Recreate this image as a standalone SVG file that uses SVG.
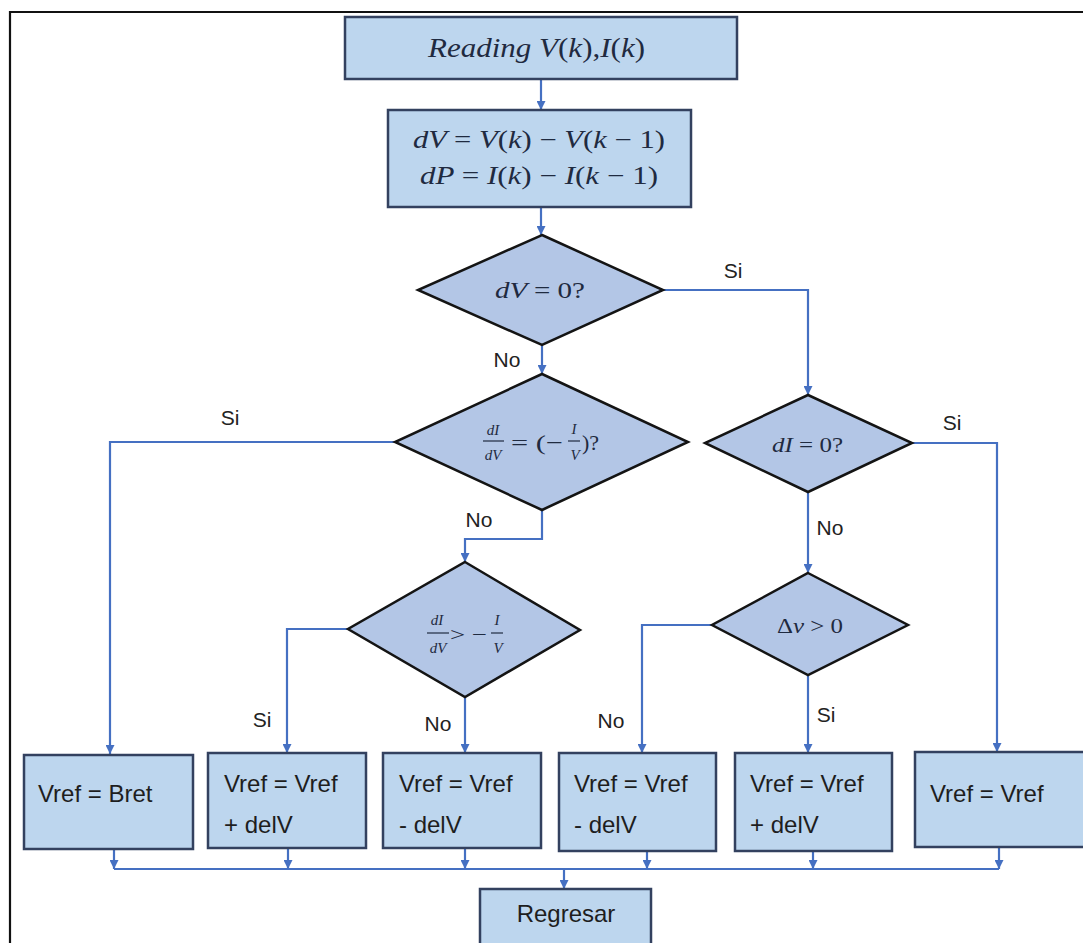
<svg xmlns="http://www.w3.org/2000/svg" width="1083" height="943" viewBox="0 0 1083 943">
<style>
.box{fill:#bdd6ee;stroke:#33415f;stroke-width:2.5}
.dia{fill:#b3c6e6;stroke:#141414;stroke-width:2.5}
.con{fill:none;stroke:#4570c2;stroke-width:2.2}
.arr{marker-end:url(#ah)}
.lbl{font-family:"Liberation Sans","Open Sans",sans-serif;font-size:21px;fill:#222}
.bt{font-family:"Liberation Sans","Open Sans",sans-serif;font-size:24px;fill:#1e1e1e}
.m{font-family:"Liberation Serif","DejaVu Serif",serif;font-style:italic;fill:#1f2a40}
.u{font-style:normal}
.bar{stroke:#1f2a40;stroke-width:1.2}
</style>
<defs>
<marker id="ah" markerUnits="userSpaceOnUse" markerWidth="9" markerHeight="9" refX="9" refY="4.5" orient="auto">
<path d="M0,0 L9,4.5 L0,9 z" fill="#4570c2"/>
</marker>
</defs>
<rect x="0" y="0" width="1083" height="943" fill="#fff"/>
<path d="M10,943 V12 H1083" fill="none" stroke="#111" stroke-width="2.2"/>

<g id="connectors">
<path class="con arr" d="M541,79 V110"/>
<path class="con arr" d="M541,207 V235"/>
<path class="con arr" d="M663,290 H808 V395"/>
<path class="con arr" d="M542,345 V374"/>
<path class="con arr" d="M395,442 H110 V754"/>
<path class="con arr" d="M542,510 V539 H465 V562"/>
<path class="con arr" d="M348,629 H287 V753"/>
<path class="con arr" d="M465,697 V753"/>
<path class="con arr" d="M912,443 H997 V752"/>
<path class="con arr" d="M808,492 V573"/>
<path class="con arr" d="M712,625 H642 V753"/>
<path class="con arr" d="M808,675 V753"/>
<path class="con arr" d="M114,850 V869"/>
<path class="con arr" d="M288,848 V869"/>
<path class="con arr" d="M465,848 V869"/>
<path class="con arr" d="M647,851 V869"/>
<path class="con arr" d="M813,851 V869"/>
<path class="con arr" d="M999,847 V869"/>
<path class="con" d="M114,869 H999"/>
<path class="con arr" d="M564,869 V889"/>
</g>

<g id="labels">
<text class="lbl" x="733" y="278" text-anchor="middle">Si</text>
<text class="lbl" x="507" y="367" text-anchor="middle">No</text>
<text class="lbl" x="230" y="425" text-anchor="middle">Si</text>
<text class="lbl" x="479" y="527" text-anchor="middle">No</text>
<text class="lbl" x="952" y="430" text-anchor="middle">Si</text>
<text class="lbl" x="830" y="535" text-anchor="middle">No</text>
<text class="lbl" x="262" y="727" text-anchor="middle">Si</text>
<text class="lbl" x="438" y="731" text-anchor="middle">No</text>
<text class="lbl" x="611" y="728" text-anchor="middle">No</text>
<text class="lbl" x="826" y="722" text-anchor="middle">Si</text>
</g>

<g id="n_read">
<rect class="box" x="345" y="17" width="392" height="62"/>
<text class="m" x="428" y="57" font-size="28" textLength="217" lengthAdjust="spacingAndGlyphs">Reading V<tspan class="u">(</tspan>k<tspan class="u">),</tspan>I<tspan class="u">(</tspan>k<tspan class="u">)</tspan></text>
</g>

<g id="n_diff">
<rect class="box" x="388" y="110" width="303" height="97"/>
<text class="m" x="413" y="148" font-size="25" textLength="252" lengthAdjust="spacingAndGlyphs">dV <tspan class="u">=</tspan> V<tspan class="u">(</tspan>k<tspan class="u">) − </tspan>V<tspan class="u">(</tspan>k <tspan class="u">− 1)</tspan></text>
<text class="m" x="420" y="184" font-size="25" textLength="238" lengthAdjust="spacingAndGlyphs">dP <tspan class="u">=</tspan> I<tspan class="u">(</tspan>k<tspan class="u">) − </tspan>I<tspan class="u">(</tspan>k <tspan class="u">− 1)</tspan></text>
</g>

<g id="d_dv0">
<polygon class="dia" points="542,235 663,290 542,345 418,290"/>
<text class="m" x="495" y="298" font-size="23" textLength="90" lengthAdjust="spacingAndGlyphs">dV <tspan class="u">= 0?</tspan></text>
</g>

<g id="d_eq">
<polygon class="dia" points="542,374 688,442 542,510 395,442"/>
<text class="m" x="493" y="435" font-size="15" text-anchor="middle">dI</text>
<line class="bar" x1="483" y1="441" x2="504" y2="441"/>
<text class="m" x="493" y="460" font-size="15" text-anchor="middle">dV</text>
<text class="m u" x="511" y="450" font-size="22" textLength="52" lengthAdjust="spacingAndGlyphs">= (−</text>
<text class="m" x="574" y="434" font-size="15" text-anchor="middle">I</text>
<line class="bar" x1="568" y1="441" x2="580" y2="441"/>
<text class="m" x="575" y="460" font-size="15" text-anchor="middle">V</text>
<text class="m u" x="582" y="450" font-size="22">)?</text>
</g>

<g id="d_gt">
<polygon class="dia" points="465,562 580,630 465,697 348,629"/>
<text class="m" x="437" y="625" font-size="15" text-anchor="middle">dI</text>
<line class="bar" x1="427" y1="633" x2="449" y2="633"/>
<text class="m" x="438" y="653" font-size="15" text-anchor="middle">dV</text>
<text class="m u" x="450" y="641" font-size="19" textLength="37" lengthAdjust="spacingAndGlyphs">&gt; −</text>
<text class="m" x="497" y="625" font-size="15" text-anchor="middle">I</text>
<line class="bar" x1="491" y1="633" x2="503" y2="633"/>
<text class="m" x="498" y="653" font-size="15" text-anchor="middle">V</text>
</g>

<g id="d_di0">
<polygon class="dia" points="808,395 912,443 808,492 705,443"/>
<text class="m" x="772" y="452" font-size="22" textLength="71" lengthAdjust="spacingAndGlyphs">dI <tspan class="u">= 0?</tspan></text>
</g>

<g id="d_dv">
<polygon class="dia" points="808,573 908,625 808,675 712,625"/>
<text class="m" x="777" y="633" font-size="22" textLength="66" lengthAdjust="spacingAndGlyphs"><tspan class="u">Δ</tspan>v <tspan class="u">&gt; 0</tspan></text>
</g>

<g id="b_bret">
<rect class="box" x="24" y="755" width="169" height="94"/>
<text class="bt" x="38" y="802">Vref = Bret</text>
</g>
<g id="b_plus1">
<rect class="box" x="208" y="753" width="158" height="95"/>
<text class="bt" x="224" y="792">Vref = Vref</text>
<text class="bt" x="224" y="833">+ delV</text>
</g>
<g id="b_minus1">
<rect class="box" x="383" y="753" width="158" height="95"/>
<text class="bt" x="399" y="792">Vref = Vref</text>
<text class="bt" x="399" y="833">- delV</text>
</g>
<g id="b_minus2">
<rect class="box" x="559" y="753" width="157" height="98"/>
<text class="bt" x="574" y="792">Vref = Vref</text>
<text class="bt" x="574" y="833">- delV</text>
</g>
<g id="b_plus2">
<rect class="box" x="735" y="753" width="157" height="98"/>
<text class="bt" x="750" y="792">Vref = Vref</text>
<text class="bt" x="750" y="833">+ delV</text>
</g>
<g id="b_same">
<rect class="box" x="915" y="752" width="180" height="95"/>
<text class="bt" x="930" y="802">Vref = Vref</text>
</g>
<g id="b_ret">
<rect class="box" x="480" y="889" width="171" height="70"/>
<text class="bt" x="566" y="922" text-anchor="middle">Regresar</text>
</g>
</svg>
